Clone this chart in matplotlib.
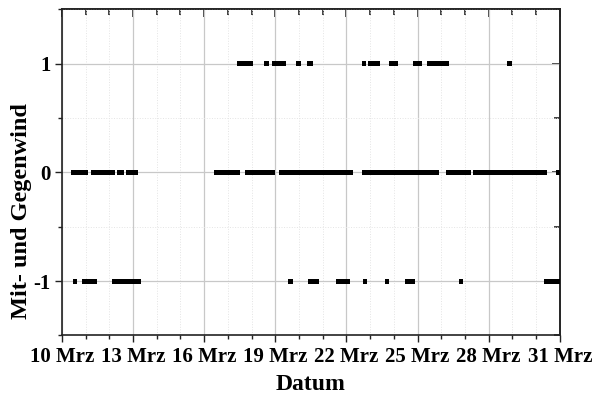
import datetime

import numpy as np
import matplotlib
matplotlib.use('Agg')
import matplotlib.pyplot as plt
import matplotlib.dates as mdates
from matplotlib.ticker import MultipleLocator, FixedLocator, NullFormatter

# wind classes: 1 = Mitwind, 0 = neutral, -1 = Gegenwind
# runs of consecutive records, given as day of March (start, end)
levels = [1, 0, -1]

runs_plus = [(17.37, 18.07), (18.52, 18.72), (18.86, 19.47), (19.87, 20.07),
             (20.35, 20.60), (22.65, 22.82), (22.90, 23.41), (23.78, 24.17),
             (24.82, 25.18), (25.40, 26.33), (28.75, 28.98)]

runs_zero = [(10.39, 11.12), (11.21, 12.25), (12.31, 12.61), (12.70, 13.23),
             (16.41, 17.51), (17.73, 18.99), (19.14, 22.26), (22.65, 25.91),
             (26.19, 27.26), (27.32, 30.44), (30.83, 31.00)]

runs_minus = [(10.48, 10.62), (10.84, 11.46), (12.11, 13.32), (19.53, 19.75),
              (20.37, 20.85), (21.55, 22.17), (22.71, 22.87), (23.61, 23.80),
              (24.48, 24.87), (26.73, 26.90), (30.33, 31.00)]

day_ticks = [10, 13, 16, 19, 22, 25, 28, 31]
y_ticks = [-1, 0, 1]


def march(day):
    base = mdates.date2num(datetime.datetime(2020, 3, 1))
    return base + day - 1


def main():
    plt.rcParams['font.family'] = ['Liberation Serif', 'DejaVu Serif']
    plt.rcParams['font.weight'] = 'bold'

    fig = plt.figure(figsize=(5.95, 4.03), dpi=100)
    ax = fig.add_axes([0.104, 0.1675, 0.837, 0.8095])

    bar_h = 0.046
    for level, runs in zip(levels, [runs_plus, runs_zero, runs_minus]):
        xr = [(march(a), b - a) for a, b in runs]
        ax.broken_barh(xr, (level - bar_h / 2, bar_h), facecolor='black',
                       edgecolor='none', zorder=3)

    ax.set_xlim(march(10), march(31))
    ax.set_ylim(-1.5, 1.5)

    xmaj = [march(d) for d in day_ticks]
    ax.xaxis.set_major_locator(FixedLocator(xmaj))
    ax.xaxis.set_minor_locator(MultipleLocator(1))
    ax.set_xticklabels([f'{d} Mrz' for d in day_ticks])
    ax.yaxis.set_major_locator(FixedLocator(y_ticks))
    ax.yaxis.set_minor_locator(MultipleLocator(0.5))
    ax.set_yticklabels([str(v) for v in y_ticks])

    ax.grid(which='major', color='#c8c8c8', lw=0.9)
    ax.grid(which='minor', color='#e4e4e4', lw=0.7, ls=':')
    ax.set_axisbelow(True)

    ax.tick_params(which='both', labelsize=15, width=1.0, color='#222222',
                   direction='out', pad=3)
    ax.tick_params(which='major', length=5)
    ax.tick_params(which='minor', length=3)

    # inward ticks on the top and right frame
    top = ax.secondary_xaxis('top')
    top.xaxis.set_major_locator(FixedLocator(xmaj))
    top.xaxis.set_minor_locator(MultipleLocator(1))
    top.xaxis.set_major_formatter(NullFormatter())
    right = ax.secondary_yaxis('right')
    right.yaxis.set_major_locator(FixedLocator(y_ticks))
    right.yaxis.set_minor_locator(MultipleLocator(0.5))
    right.yaxis.set_major_formatter(NullFormatter())
    for sec in (top, right):
        sec.tick_params(which='both', direction='in', width=1.2,
                        color='#222222')
        sec.tick_params(which='major', length=6)
        sec.tick_params(which='minor', length=4)

    for a in (ax, top, right):
        for sp in a.spines.values():
            sp.set_color('#222222')
            sp.set_linewidth(1.2)

    ax.set_xlabel('Datum', fontsize=17, fontweight='bold', labelpad=5)
    ax.set_ylabel('Mit- und Gegenwind', fontsize=17.5, fontweight='bold',
                  va='center')
    ax.yaxis.set_label_coords(-0.082, 0.38)

    fig.savefig('out.png', dpi=100)


if __name__ == '__main__':
    main()
